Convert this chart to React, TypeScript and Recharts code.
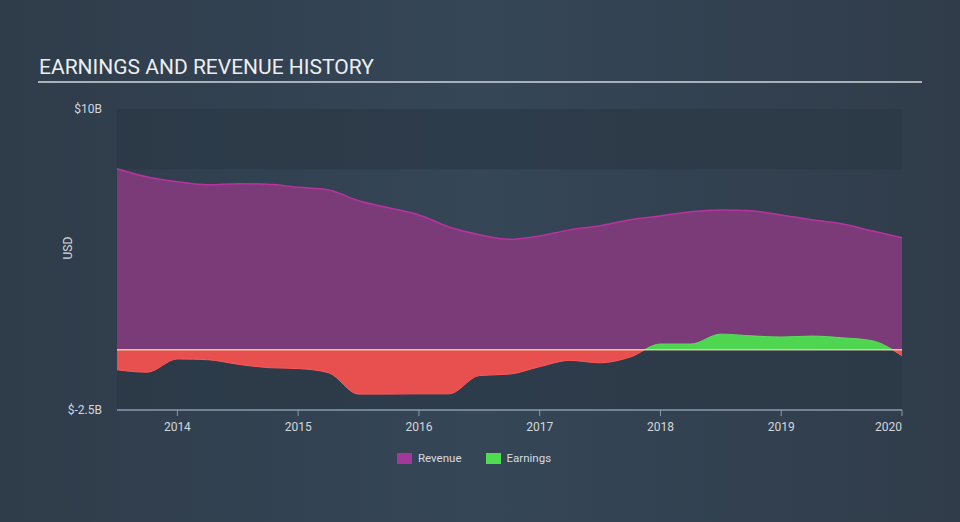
import React from 'react';
import {
  ComposedChart,
  Area,
  XAxis,
  YAxis,
  ReferenceArea,
  ReferenceLine,
  Label,
} from 'recharts';

// quarters, mid-2013 to early 2020
const periods = [
  2013.5, 2013.75, 2014.0, 2014.25, 2014.5, 2014.75, 2015.0, 2015.25, 2015.5,
  2015.75, 2016.0, 2016.25, 2016.5, 2016.75, 2017.0, 2017.25, 2017.5, 2017.75,
  2018.0, 2018.25, 2018.5, 2018.75, 2019.0, 2019.25, 2019.5, 2019.75, 2020.0,
];

// USD billions
const revenue = [
  7.52, 7.18, 6.98, 6.85, 6.9, 6.87, 6.75, 6.64, 6.19, 5.9, 5.6, 5.1, 4.78,
  4.59, 4.73, 4.98, 5.15, 5.4, 5.56, 5.73, 5.81, 5.77, 5.6, 5.4, 5.23, 4.94, 4.65,
];

const earnings = [
  -0.83, -0.93, -0.38, -0.41, -0.6, -0.74, -0.78, -0.95, -1.84, -1.84, -1.83,
  -1.83, -1.07, -1.01, -0.7, -0.44, -0.54, -0.3, 0.24, 0.24, 0.65, 0.58, 0.53,
  0.57, 0.5, 0.38, -0.25,
];

const yearTicks = [2014, 2015, 2016, 2017, 2018, 2019, 2020];
const valueTicks = [-2.5, 10];

const data = periods.map((t, i) => ({ t, revenue: revenue[i], earnings: earnings[i] }));

const eMax = Math.max(...earnings);
const eMin = Math.min(...earnings);
const zeroOffset = eMax / (eMax - eMin);

const axisText = { fill: '#d3d7dc', fontSize: 12, fontFamily: 'Roboto, sans-serif' };

// last year label sits flush against the right edge
function YearTick(props: any) {
  const { x, y, payload } = props;
  const last = payload.value === yearTicks[yearTicks.length - 1];
  return (
    <text
      x={x}
      y={y + 4}
      dy="0.71em"
      textAnchor={last ? 'end' : 'middle'}
      fill="#d3d7dc"
      fontSize={12}
      fontFamily="Roboto, sans-serif"
    >
      {payload.value}
    </text>
  );
}

export default function App() {
  return (
    <div
      style={{
        position: 'fixed',
        left: 0,
        top: 0,
        width: 960,
        height: 522,
        background: 'linear-gradient(90deg, #2f3c4a 0%, #354657 50%, #303c4a 100%)',
        fontFamily: 'Roboto, sans-serif',
        overflow: 'hidden',
      }}
    >
      <div
        style={{
          position: 'absolute',
          left: 39,
          top: 55,
          fontSize: 21,
          color: '#eceef0',
        }}
      >
        EARNINGS AND REVENUE HISTORY
      </div>
      <div
        style={{
          position: 'absolute',
          left: 38,
          top: 81,
          width: 884,
          height: 2,
          background: '#a9b0b8',
        }}
      />
      <ComposedChart
        width={960}
        height={522}
        data={data}
        margin={{ top: 109, right: 58, bottom: 82, left: 57 }}
      >
        <defs>
          <linearGradient id="earnFill" x1="0" y1="0" x2="0" y2="1">
            <stop offset={zeroOffset} stopColor="#4fd651" />
            <stop offset={zeroOffset} stopColor="#e84f4f" />
          </linearGradient>
          <linearGradient id="earnStroke" x1="0" y1="0" x2="0" y2="1">
            <stop offset={zeroOffset} stopColor="#56de58" />
            <stop offset={zeroOffset} stopColor="#ff5757" />
          </linearGradient>
        </defs>
        <ReferenceArea y1={7.5} y2={10} fill="#2c3947" fillOpacity={0.8} stroke="none" ifOverflow="visible" />
        <ReferenceArea y1={-2.5} y2={0} fill="#2c3947" fillOpacity={0.8} stroke="none" ifOverflow="visible" />
        <XAxis
          type="number"
          dataKey="t"
          domain={[2013.5, 2020]}
          ticks={yearTicks}
          height={30}
          tick={<YearTick />}
          tickSize={6}
          tickLine={{ stroke: '#8b9aab' }}
          axisLine={{ stroke: '#8b9aab', strokeWidth: 1.5 }}
          allowDecimals={false}
        />
        <YAxis
          type="number"
          domain={[-2.5, 10]}
          ticks={valueTicks}
          width={60}
          tick={axisText}
          tickLine={false}
          axisLine={false}
          tickMargin={9}
          tickFormatter={(v: number) => `$${v}B`}
        >
          <Label
            value="USD"
            angle={-90}
            position="insideLeft"
            offset={11}
            style={{ fill: '#d3d7dc', fontSize: 12, fontFamily: 'Roboto, sans-serif' }}
          />
        </YAxis>
        <Area
          type="monotone"
          dataKey="revenue"
          stroke="#b8339f"
          strokeWidth={1.5}
          fill="#7b3a78"
          fillOpacity={1}
          isAnimationActive={false}
        />
        <Area
          type="monotone"
          dataKey="earnings"
          stroke="url(#earnStroke)"
          strokeWidth={1}
          fill="url(#earnFill)"
          fillOpacity={1}
          isAnimationActive={false}
        />
        <ReferenceLine y={0} stroke="#e8dcae" strokeWidth={1.5} strokeOpacity={0.85} />
      </ComposedChart>
      <div
        style={{
          position: 'absolute',
          left: 397,
          top: 451,
          display: 'flex',
          alignItems: 'center',
          fontSize: 11.5,
          color: '#d8dce0',
        }}
      >
        <span style={{ width: 15, height: 11, background: '#a2399a', marginRight: 6 }} />
        <span style={{ marginRight: 24 }}>Revenue</span>
        <span style={{ width: 15, height: 11, background: '#4fdd4f', marginRight: 6 }} />
        <span>Earnings</span>
      </div>
    </div>
  );
}
